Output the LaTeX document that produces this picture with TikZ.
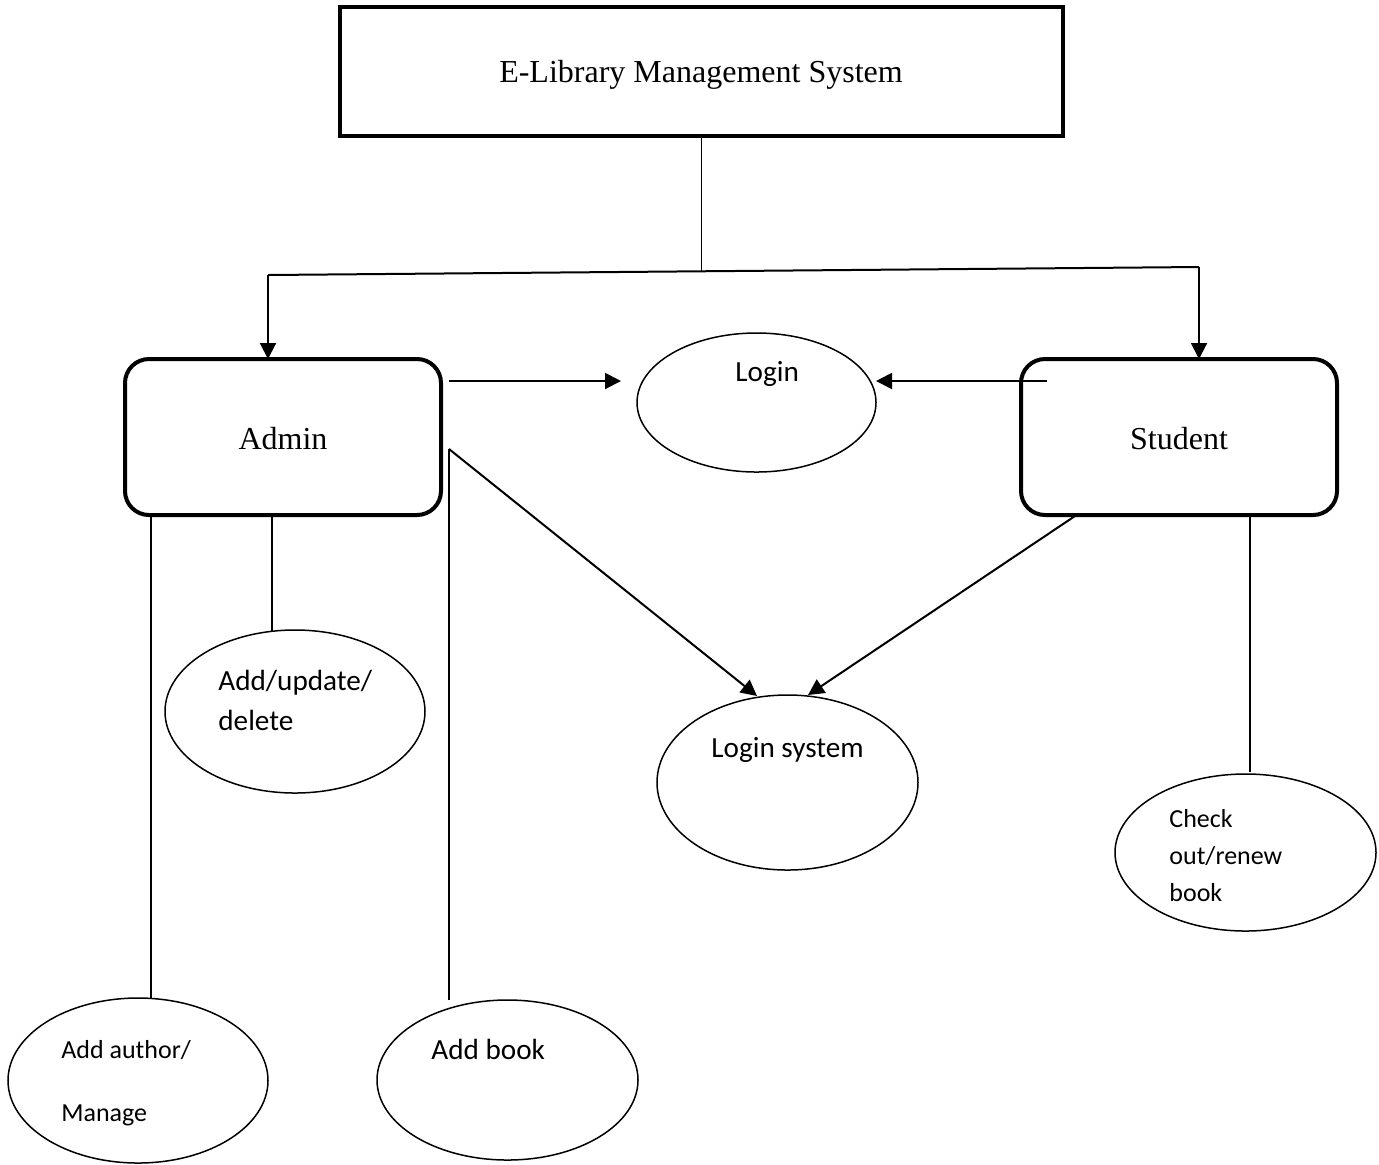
\documentclass[tikz,border=0pt]{standalone}
\usepackage{fontspec}
\newfontfamily\timesf{Liberation Serif}
\newfontfamily\calf{Carlito}
\usetikzlibrary{arrows.meta,shapes.geometric}
\tikzset{
  thickbox/.style={draw,line width=2pt,rounded corners=12pt,inner sep=0pt,outer sep=0pt},
  oval/.style={draw,ellipse,line width=0.75pt,inner sep=0pt,outer sep=0pt},
  lbl/.style={anchor=base west,inner sep=0pt,font=\calf\fontsize{14.6}{17}\selectfont},
  smalllbl/.style={anchor=base west,inner sep=0pt,font=\calf\fontsize{13}{16}\selectfont},
  serif/.style={anchor=base,inner sep=0pt,font=\timesf\fontsize{16}{19}\selectfont},
  thin/.style={line width=0.8pt},
  arr/.style={line width=1pt,-{Triangle[length=8pt,width=8pt]}},
}
\begin{document}
\begin{tikzpicture}[x=0.5pt,y=-0.5pt]
\useasboundingbox (0,0) rectangle (1379,1164);
% boxes
\node[draw,line width=2.4pt,inner sep=0pt,outer sep=0pt,minimum width=361.5pt,minimum height=64.5pt] (title) at (701.5,71.5) {};
\node[serif] (titletxt) at (701,82) {E-Library Management System};
\node[thickbox,minimum width=158pt,minimum height=78pt] (admin) at (283,437) {};
\node[serif] (admintxt) at (283,449) {Admin};
\node[thickbox,minimum width=158pt,minimum height=78pt] (student) at (1179,437) {};
\node[serif] (studenttxt) at (1179,449) {Student};
% ellipses
\node[oval,minimum width=119.5pt,minimum height=69.5pt] (login) at (756.5,402.5) {};
\node[lbl] (logintxt) at (735,381) {Login};
\node[oval,minimum width=130.5pt,minimum height=87.5pt] (lsys) at (787.5,782.5) {};
\node[lbl] (lsystxt) at (711,757) {Login system};
\node[oval,minimum width=130pt,minimum height=81.5pt] (aud) at (295,711.5) {};
\node[lbl] (audtxt1) at (218,690) {Add/update/};
\node[lbl] (audtxt2) at (218,730) {delete};
\node[oval,minimum width=130pt,minimum height=82.5pt] (author) at (138,1080.5) {};
\node[smalllbl] (authtxt1) at (61,1058) {Add author/};
\node[smalllbl] (authtxt2) at (61,1121) {Manage};
\node[oval,minimum width=130.5pt,minimum height=80pt] (book) at (507.5,1080) {};
\node[lbl] (booktxt) at (431,1059) {Add book};
\node[oval,minimum width=130.5pt,minimum height=78.5pt] (check) at (1245.5,852.5) {};
\node[smalllbl] (chk1) at (1169,827) {Check};
\node[smalllbl] (chk2) at (1169,864) {out/renew};
\node[smalllbl] (chk3) at (1169,901) {book};
% coordinates
\coordinate (bl) at (268,275);
\coordinate (br) at (1199,267);
\coordinate (bm) at (701.5,271.3);
\coordinate (a1) at (449,381);
\coordinate (a1e) at (621,381);
\coordinate (s1) at (1047,381);
\coordinate (ak) at (449,449);
\coordinate (akb) at (449,1000);
\coordinate (lsA) at (757,696);
\coordinate (lsB) at (808,695);
\coordinate (s2) at (1075,516);
\coordinate (au) at (272,631);
\coordinate (aa) at (151,998);
\coordinate (ck) at (1250,772);
% connectors
\draw[thin] (title.south) -- (bm);
\draw[line width=1pt] (bl) -- (br);
\draw[arr] (bl) -- (bl |- admin.north);
\draw[arr] (br) -- (br |- student.north);
\draw[arr] (a1) -- (a1e);
\draw[arr] (s1) -- (login.east |- s1);
\draw[thin] (akb) -- (ak);
\draw[arr] (ak) -- (lsA);
\draw[arr] (s2) -- (lsB);
\draw[thin] (admin.south -| au) -- (au);
\draw[thin] (admin.south -| aa) -- (aa);
\draw[thin] (student.south -| ck) -- (ck);
\end{tikzpicture}
\end{document}
